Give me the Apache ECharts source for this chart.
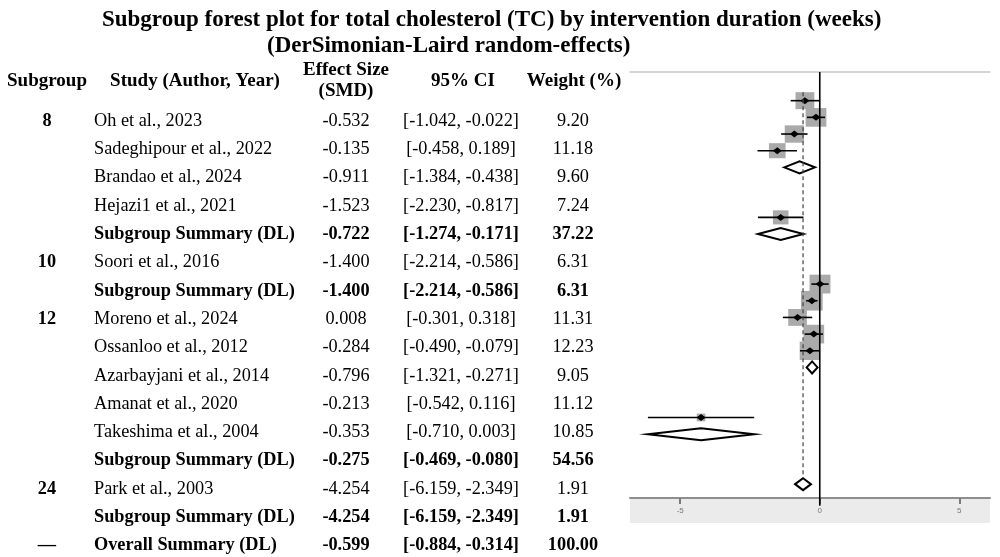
<!DOCTYPE html>
<html>
<head>
<meta charset="utf-8">
<script src="https://cdn.jsdelivr.net/npm/echarts@6/dist/echarts.min.js"></script>
<style>
  html, body { margin: 0; padding: 0; background: #fff; }
  #chart { width: 1000px; height: 557px; }
</style>
</head>
<body>
<div id="chart"></div>
<script>
// Rows of the table, top to bottom (studies, subgroup summaries, overall)
const subgroupLabels = ['8', '', '', '', '', '10', '', '12', '', '', '', '', '', '24', '', '—'];
const studyLabels = [
    'Oh et al., 2023', 'Sadeghipour et al., 2022', 'Brandao et al., 2024', 'Hejazi1 et al., 2021',
    'Subgroup Summary (DL)',
    'Soori et al., 2016',
    'Subgroup Summary (DL)',
    'Moreno et al., 2024', 'Ossanloo et al., 2012', 'Azarbayjani et al., 2014', 'Amanat et al., 2020', 'Takeshima et al., 2004',
    'Subgroup Summary (DL)',
    'Park et al., 2003',
    'Subgroup Summary (DL)',
    'Overall Summary (DL)'
];
const rowKinds = ['study', 'study', 'study', 'study', 'summary', 'study', 'summary',
    'study', 'study', 'study', 'study', 'study', 'summary', 'study', 'summary', 'overall'];
const effectSizes = [-0.532, -0.135, -0.911, -1.523, -0.722, -1.400, -1.400,
    0.008, -0.284, -0.796, -0.213, -0.353, -0.275, -4.254, -4.254, -0.599];
const ciLower = [-1.042, -0.458, -1.384, -2.230, -1.274, -2.214, -2.214,
    -0.301, -0.490, -1.321, -0.542, -0.710, -0.469, -6.159, -6.159, -0.884];
const ciUpper = [-0.022, 0.189, -0.438, -0.817, -0.171, -0.586, -0.586,
    0.318, -0.079, -0.271, 0.116, 0.003, -0.080, -2.349, -2.349, -0.314];
const weights = [9.20, 11.18, 9.60, 7.24, 37.22, 6.31, 6.31,
    11.31, 12.23, 9.05, 11.12, 10.85, 54.56, 1.91, 1.91, 100.00];
const headerLabels = ['Subgroup', 'Study (Author, Year)', 'Effect Size\n(SMD)', '95% CI', 'Weight (%)'];
const titleLines = [
    'Subgroup forest plot for total cholesterol (TC) by intervention duration (weeks)',
    '(DerSimonian-Laird random-effects)'
];
const axisTickValues = [-5, 0, 5];

const FONT = '"Liberation Serif", "Times New Roman", serif';
const overallEffect = effectSizes[rowKinds.indexOf('overall')];

// Column x (pixels inside the table grid) and alignment
const colX = { sub: 47, study: 94, es: 346, ci: 461, w: 573 };
const headerX = [47, 195, 346, 463, 574];
const HEADER_ROW = -1.413;

// Forest panel rows: two blank rows after each summary
const plotRows = [];
let r = 0;
rowKinds.forEach(k => {
    plotRows.push(r);
    r += (k === 'summary') ? 3 : 1;
});

// Table cells
const cells = [];
headerLabels.forEach((t, j) => {
    cells.push({ x: headerX[j], row: HEADER_ROW, text: t, bold: true, align: 'center', size: 19 });
});
rowKinds.forEach((k, i) => {
    const bold = k !== 'study';
    if (subgroupLabels[i]) {
        cells.push({ x: colX.sub, row: i, text: subgroupLabels[i], bold: true, align: 'center', size: 18.3 });
    }
    cells.push({ x: colX.study, row: i, text: studyLabels[i], bold, align: 'left', size: 18.3 });
    cells.push({ x: colX.es, row: i, text: effectSizes[i].toFixed(3), bold, align: 'center', size: 18.3 });
    cells.push({ x: colX.ci, row: i, text: `[${ciLower[i].toFixed(3)}, ${ciUpper[i].toFixed(3)}]`, bold, align: 'center', size: 18.3 });
    cells.push({ x: colX.w, row: i, text: weights[i].toFixed(2), bold, align: 'center', size: 18.3 });
});

const myChart = echarts.init(document.getElementById('chart'), null, { renderer: 'canvas' });

const titleStyle = { fontFamily: FONT, fontWeight: 'bold', fontSize: 23, color: '#000' };

const option = {
    backgroundColor: '#fff',
    animation: false,
    title: [
        { text: titleLines[0], left: 97, top: 4, textStyle: titleStyle },
        { text: titleLines[1], left: 262, top: 30, textStyle: titleStyle }
    ],
    graphic: [
        // grey band under the forest axis
        { type: 'rect', left: 630, top: 499, shape: { width: 360, height: 24 }, style: { fill: '#ebebeb' }, z: -10 }
    ],
    grid: [
        { left: 0, top: 60, width: 628, height: 497 },
        { left: 630, top: 72, width: 360, height: 426 }
    ],
    xAxis: [
        { gridIndex: 0, type: 'value', min: 0, max: 628, show: false },
        {
            gridIndex: 1, type: 'value', min: -6.8, max: 6.1,
            axisLine: { show: true, onZero: false, lineStyle: { color: '#8e8e8e', width: 2 } },
            axisTick: { show: true, customValues: axisTickValues, length: 6, lineStyle: { color: '#7a7a7a', width: 2 } },
            axisLabel: { customValues: axisTickValues, fontSize: 8, color: '#777', margin: 9, fontFamily: 'Arial' },
            splitLine: { show: false }
        },
        {
            gridIndex: 1, type: 'value', min: -6.8, max: 6.1, position: 'top',
            axisLine: { show: true, onZero: false, lineStyle: { color: '#c8c8c8', width: 1.5 } },
            axisTick: { show: false }, axisLabel: { show: false }, splitLine: { show: false }
        }
    ],
    yAxis: [
        { gridIndex: 0, type: 'value', min: -2.155, max: 15.406, inverse: true, show: false },
        { gridIndex: 1, type: 'value', min: -1.72, max: 23.83, inverse: true, show: false }
    ],
    series: [
        {
            // table text
            type: 'custom',
            xAxisIndex: 0, yAxisIndex: 0,
            silent: true,
            data: cells.map(c => [c.x, c.row]),
            renderItem: function (params, api) {
                const c = cells[params.dataIndex];
                const p = api.coord([api.value(0), api.value(1)]);
                return {
                    type: 'text',
                    x: p[0], y: p[1],
                    style: {
                        text: c.text,
                        fontFamily: FONT,
                        fontSize: c.size,
                        fontWeight: c.bold ? 'bold' : 'normal',
                        lineHeight: 21,
                        fill: '#000',
                        align: c.align,
                        verticalAlign: 'middle'
                    }
                };
            }
        },
        {
            // forest marks
            type: 'custom',
            xAxisIndex: 1, yAxisIndex: 1,
            silent: true,
            data: rowKinds.map((k, i) => [plotRows[i], effectSizes[i], ciLower[i], ciUpper[i]]),
            renderItem: function (params, api) {
                const i = params.dataIndex;
                const row = api.value(0);
                const c = api.coord([api.value(1), row]);
                const lo = api.coord([api.value(2), row]);
                const hi = api.coord([api.value(3), row]);
                if (rowKinds[i] === 'study') {
                    const sw = 6.2 * Math.sqrt(weights[i]);
                    const sh = 5.6 * Math.sqrt(weights[i]);
                    return {
                        type: 'group',
                        children: [
                            { type: 'rect', shape: { x: c[0] - sw / 2, y: c[1] - sh / 2, width: sw, height: sh }, style: { fill: '#aaaaaa' } },
                            { type: 'line', shape: { x1: lo[0], y1: c[1], x2: hi[0], y2: c[1] }, style: { stroke: '#000', lineWidth: 1.6 } },
                            { type: 'polygon', shape: { points: [[c[0] - 4.5, c[1]], [c[0], c[1] - 3.5], [c[0] + 4.5, c[1]], [c[0], c[1] + 3.5]] }, style: { fill: '#000' } }
                        ]
                    };
                }
                return {
                    type: 'polygon',
                    shape: { points: [[lo[0], c[1]], [c[0], c[1] - 6], [hi[0], c[1]], [c[0], c[1] + 6]] },
                    style: { fill: '#fff', stroke: '#000', lineWidth: 2 }
                };
            }
        },
        {
            // null line and overall-effect dashed line
            type: 'custom',
            xAxisIndex: 1, yAxisIndex: 1,
            silent: true,
            z: 5,
            data: [[0, overallEffect]],
            renderItem: function (params, api) {
                const top = api.coord([api.value(0), -1.72]);
                const bottom = api.coord([api.value(0), 24.3]);
                const dTop = api.coord([api.value(1), -0.5]);
                const dBottom = api.coord([api.value(1), 22.6]);
                return {
                    type: 'group',
                    children: [
                        { type: 'line', shape: { x1: top[0], y1: top[1], x2: bottom[0], y2: bottom[1] }, style: { stroke: '#000', lineWidth: 1.6 } },
                        { type: 'line', shape: { x1: dTop[0], y1: dTop[1], x2: dBottom[0], y2: dBottom[1] }, style: { stroke: '#444', lineWidth: 1.2, lineDash: [4, 3] } }
                    ]
                };
            }
        }
    ]
};

myChart.setOption(option);
</script>
</body>
</html>
